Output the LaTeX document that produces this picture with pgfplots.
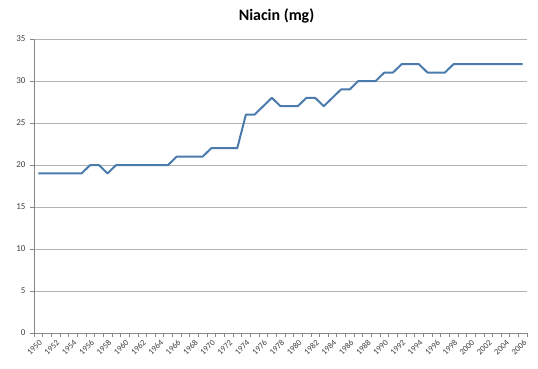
\documentclass[border=0pt]{standalone}
\usepackage{fontspec}
\setmainfont{Carlito}
\usepackage{pgfplots}
\pgfplotsset{compat=1.18}
\definecolor{linecol}{HTML}{4B7BAD}
\definecolor{gridcol}{HTML}{B3B3B3}
\definecolor{axcol}{HTML}{868686}
\begin{document}
\begin{tikzpicture}[x=1bp,y=1bp]
\begin{axis}[
  at={(34bp,35bp)}, anchor=south west,
  scale only axis, width=493bp, height=294bp,
  xmin=1949.5, xmax=2006.5, ymin=0, ymax=35,
  axis x line*=bottom, axis y line*=left,
  axis line style={axcol, line width=0.6pt},
  ytick={0,5,...,35},
  ymajorgrids, grid style={gridcol, line width=0.6pt},
  xtick={1950,1952,...,2006},
  minor xtick={1949.5,1950.5,...,2006.5},
  major x tick style={draw=none},
  minor x tick style={axcol, line width=0.5pt},
  minor tick length=4bp,
  major tick length=4bp,
  ytick style={axcol, line width=0.6pt},
  tick align=outside,
  x tick label style={rotate=45, anchor=north east, font=\fontsize{8.5}{10}\selectfont, text=black!75, inner sep=0.5pt, yshift=-1.5bp, xshift=-1bp},
  y tick label style={font=\fontsize{9}{10}\selectfont, text=black!75, xshift=-1bp},
  /pgf/number format/assume math mode=true,
  xticklabel={\pgfmathprintnumber[1000 sep={}]{\tick}},
  title={\bfseries Niacin (mg)},
  title style={font=\fontsize{16}{18}\selectfont, at={(0.5,1)}, xshift=-4bp, yshift=6bp},
  clip=false,
]
\addplot[linecol, line width=2bp, line join=round] table {
x y
1950 19
1951 19
1952 19
1953 19
1954 19
1955 19
1956 20
1957 20
1958 19
1959 20
1960 20
1961 20
1962 20
1963 20
1964 20
1965 20
1966 21
1967 21
1968 21
1969 21
1970 22
1971 22
1972 22
1973 22
1974 26
1975 26
1976 27
1977 28
1978 27
1979 27
1980 27
1981 28
1982 28
1983 27
1984 28
1985 29
1986 29
1987 30
1988 30
1989 30
1990 31
1991 31
1992 32
1993 32
1994 32
1995 31
1996 31
1997 31
1998 32
1999 32
2000 32
2001 32
2002 32
2003 32
2004 32
2005 32
2006 32
};
\end{axis}
\pgfresetboundingbox
\useasboundingbox (0,0) rectangle (538,368);
\end{tikzpicture}
\end{document}
